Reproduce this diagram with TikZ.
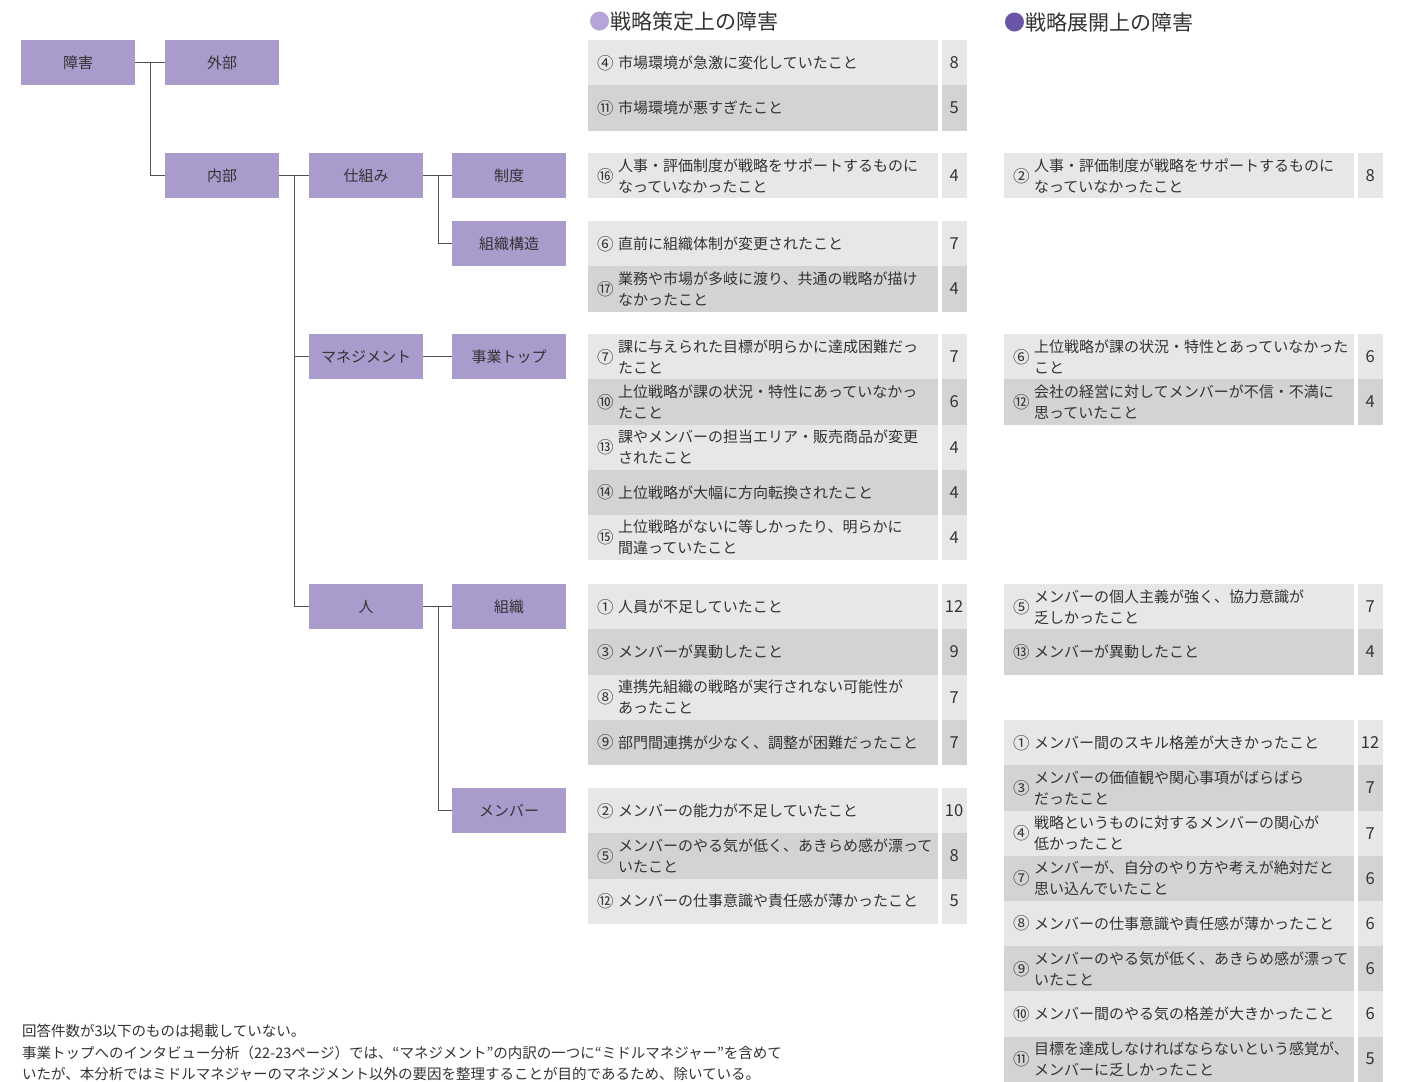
\documentclass[tikz,border=0pt]{standalone}
\usepackage{fontspec}
\setmainfont{Noto Sans CJK JP}
\definecolor{boxpurple}{RGB}{169,155,204}
\definecolor{rowA}{RGB}{230,231,232}
\definecolor{rowB}{RGB}{210,211,213}
\definecolor{txt}{RGB}{51,51,51}
\definecolor{lineg}{RGB}{80,80,80}
\definecolor{bulA}{RGB}{180,164,216}
\definecolor{bulB}{RGB}{106,85,168}
\newcommand\rowitem[7]{%
  \node[rowbg, fill=#4] (#1) at (#2,#3) {};
  \node[circ] (#1c) at ([xshift=9pt]#1.west) {#5};
  \node[itxt] (#1t) at ([xshift=30pt]#1.west) {#6};
  \node[cnt, fill=#4] (#1n) at ([xshift=3pt]#1.north east) {#7};
}
\begin{document}
\begin{tikzpicture}[x=1pt,y=-1pt,
  tbox/.style={fill=boxpurple, minimum width=114pt, minimum height=45pt, inner sep=0pt,
    font=\fontsize{15}{18}\selectfont, text=txt, anchor=north west},
  rowbg/.style={minimum width=350pt, minimum height=45.2pt, inner sep=0pt, anchor=north west},
  cnt/.style={minimum width=25pt, minimum height=45.2pt, inner sep=0pt, anchor=north west,
    font=\fontsize{16.5}{18}\selectfont, text=txt},
  circ/.style={anchor=west, inner sep=0pt, font=\fontsize{16.5}{21}\selectfont, text=txt},
  itxt/.style={anchor=west, inner sep=0pt, align=left, font=\fontsize{15}{21}\selectfont, text=txt},
  conn/.style={draw=lineg, line width=1.1pt},
  head/.style={anchor=west, inner sep=0pt, font=\fontsize{21}{24}\selectfont, text=txt},
  note/.style={anchor=west, inner sep=0pt, font=\fontsize{14.5}{22}\selectfont, text=txt}]
\useasboundingbox[fill=white] (0,0) rectangle (1423,1081);

% headers
\node[head] (hA) at (589,22) {{\color{bulA}●}戦略策定上の障害};
\node[head] (hB) at (1004,22) {{\color{bulB}●}戦略展開上の障害};

% tree
\node[tbox] (shogai) at (21,40) {障害};
\node[tbox] (gaibu) at (165,40) {外部};
\node[tbox] (naibu) at (165,153) {内部};
\node[tbox] (shikumi) at (309,153) {仕組み};
\node[tbox] (seido) at (452,153) {制度};
\node[tbox] (kozo) at (452,221) {組織構造};
\node[tbox] (mgmt) at (309,334) {マネジメント};
\node[tbox] (jigyo) at (452,334) {事業トップ};
\node[tbox] (hito) at (309,584) {人};
\node[tbox] (soshiki) at (452,584) {組織};
\node[tbox] (member) at (452,788) {メンバー};

\coordinate (j1) at ([xshift=15pt]shogai.east);
\coordinate (j2) at ([xshift=15.5pt]naibu.east);
\coordinate (j3) at ([xshift=15pt]shikumi.east);
\coordinate (j4) at ([xshift=15pt]hito.east);
\draw[conn] (shogai.east) -- (gaibu.west);
\draw[conn] (j1) |- (naibu.west);
\draw[conn] (naibu.east) -- (shikumi.west);
\draw[conn] (j2) |- (mgmt.west);
\draw[conn] (j2) |- (hito.west);
\draw[conn] (shikumi.east) -- (seido.west);
\draw[conn] (j3) |- (kozo.west);
\draw[conn] (mgmt.east) -- (jigyo.west);
\draw[conn] (hito.east) -- (soshiki.west);
\draw[conn] (j4) |- (member.west);

% left table
\rowitem{L1}{588}{40}{rowA}{④}{市場環境が急激に変化していたこと}{8}
\rowitem{L2}{588}{85.2}{rowB}{⑪}{市場環境が悪すぎたこと}{5}
\rowitem{L3}{588}{153}{rowA}{⑯}{人事・評価制度が戦略をサポートするものに\\なっていなかったこと}{4}
\rowitem{L4}{588}{221}{rowA}{⑥}{直前に組織体制が変更されたこと}{7}
\rowitem{L5}{588}{266.2}{rowB}{⑰}{業務や市場が多岐に渡り、共通の戦略が描け\\なかったこと}{4}
\rowitem{L6}{588}{334}{rowA}{⑦}{課に与えられた目標が明らかに達成困難だっ\\たこと}{7}
\rowitem{L7}{588}{379.2}{rowB}{⑩}{上位戦略が課の状況・特性にあっていなかっ\\たこと}{6}
\rowitem{L8}{588}{424.4}{rowA}{⑬}{課やメンバーの担当エリア・販売商品が変更\\されたこと}{4}
\rowitem{L9}{588}{469.6}{rowB}{⑭}{上位戦略が大幅に方向転換されたこと}{4}
\rowitem{L10}{588}{514.8}{rowA}{⑮}{上位戦略がないに等しかったり、明らかに\\間違っていたこと}{4}
\rowitem{L11}{588}{584}{rowA}{①}{人員が不足していたこと}{12}
\rowitem{L12}{588}{629.2}{rowB}{③}{メンバーが異動したこと}{9}
\rowitem{L13}{588}{674.4}{rowA}{⑧}{連携先組織の戦略が実行されない可能性が\\あったこと}{7}
\rowitem{L14}{588}{719.6}{rowB}{⑨}{部門間連携が少なく、調整が困難だったこと}{7}
\rowitem{L15}{588}{788}{rowA}{②}{メンバーの能力が不足していたこと}{10}
\rowitem{L16}{588}{833.2}{rowB}{⑤}{メンバーのやる気が低く、あきらめ感が漂って\\いたこと}{8}
\rowitem{L17}{588}{878.4}{rowA}{⑫}{メンバーの仕事意識や責任感が薄かったこと}{5}

% right table
\rowitem{R1}{1004}{153}{rowA}{②}{人事・評価制度が戦略をサポートするものに\\なっていなかったこと}{8}
\rowitem{R2}{1004}{334}{rowA}{⑥}{上位戦略が課の状況・特性とあっていなかった\\こと}{6}
\rowitem{R3}{1004}{379.2}{rowB}{⑫}{会社の経営に対してメンバーが不信・不満に\\思っていたこと}{4}
\rowitem{R4}{1004}{584}{rowA}{⑤}{メンバーの個人主義が強く、協力意識が\\乏しかったこと}{7}
\rowitem{R5}{1004}{629.2}{rowB}{⑬}{メンバーが異動したこと}{4}
\rowitem{R6}{1004}{720}{rowA}{①}{メンバー間のスキル格差が大きかったこと}{12}
\rowitem{R7}{1004}{765.2}{rowB}{③}{メンバーの価値観や関心事項がばらばら\\だったこと}{7}
\rowitem{R8}{1004}{810.4}{rowA}{④}{戦略というものに対するメンバーの関心が\\低かったこと}{7}
\rowitem{R9}{1004}{855.6}{rowB}{⑦}{メンバーが、自分のやり方や考えが絶対だと\\思い込んでいたこと}{6}
\rowitem{R10}{1004}{900.8}{rowA}{⑧}{メンバーの仕事意識や責任感が薄かったこと}{6}
\rowitem{R11}{1004}{946}{rowB}{⑨}{メンバーのやる気が低く、あきらめ感が漂って\\いたこと}{6}
\rowitem{R12}{1004}{991.2}{rowA}{⑩}{メンバー間のやる気の格差が大きかったこと}{6}
\rowitem{R13}{1004}{1036.4}{rowB}{⑪}{目標を達成しなければならないという感覚が、\\メンバーに乏しかったこと}{5}

% notes
\node[note] (n1) at (22,1031) {回答件数が3以下のものは掲載していない。};
\node[note] (n2) at (22,1053) {事業トップへのインタビュー分析（22-23ページ）では、“マネジメント”の内訳の一つに“ミドルマネジャー”を含めて};
\node[note] (n3) at (22,1074) {いたが、本分析ではミドルマネジャーのマネジメント以外の要因を整理することが目的であるため、除いている。};
\end{tikzpicture}
\end{document}
